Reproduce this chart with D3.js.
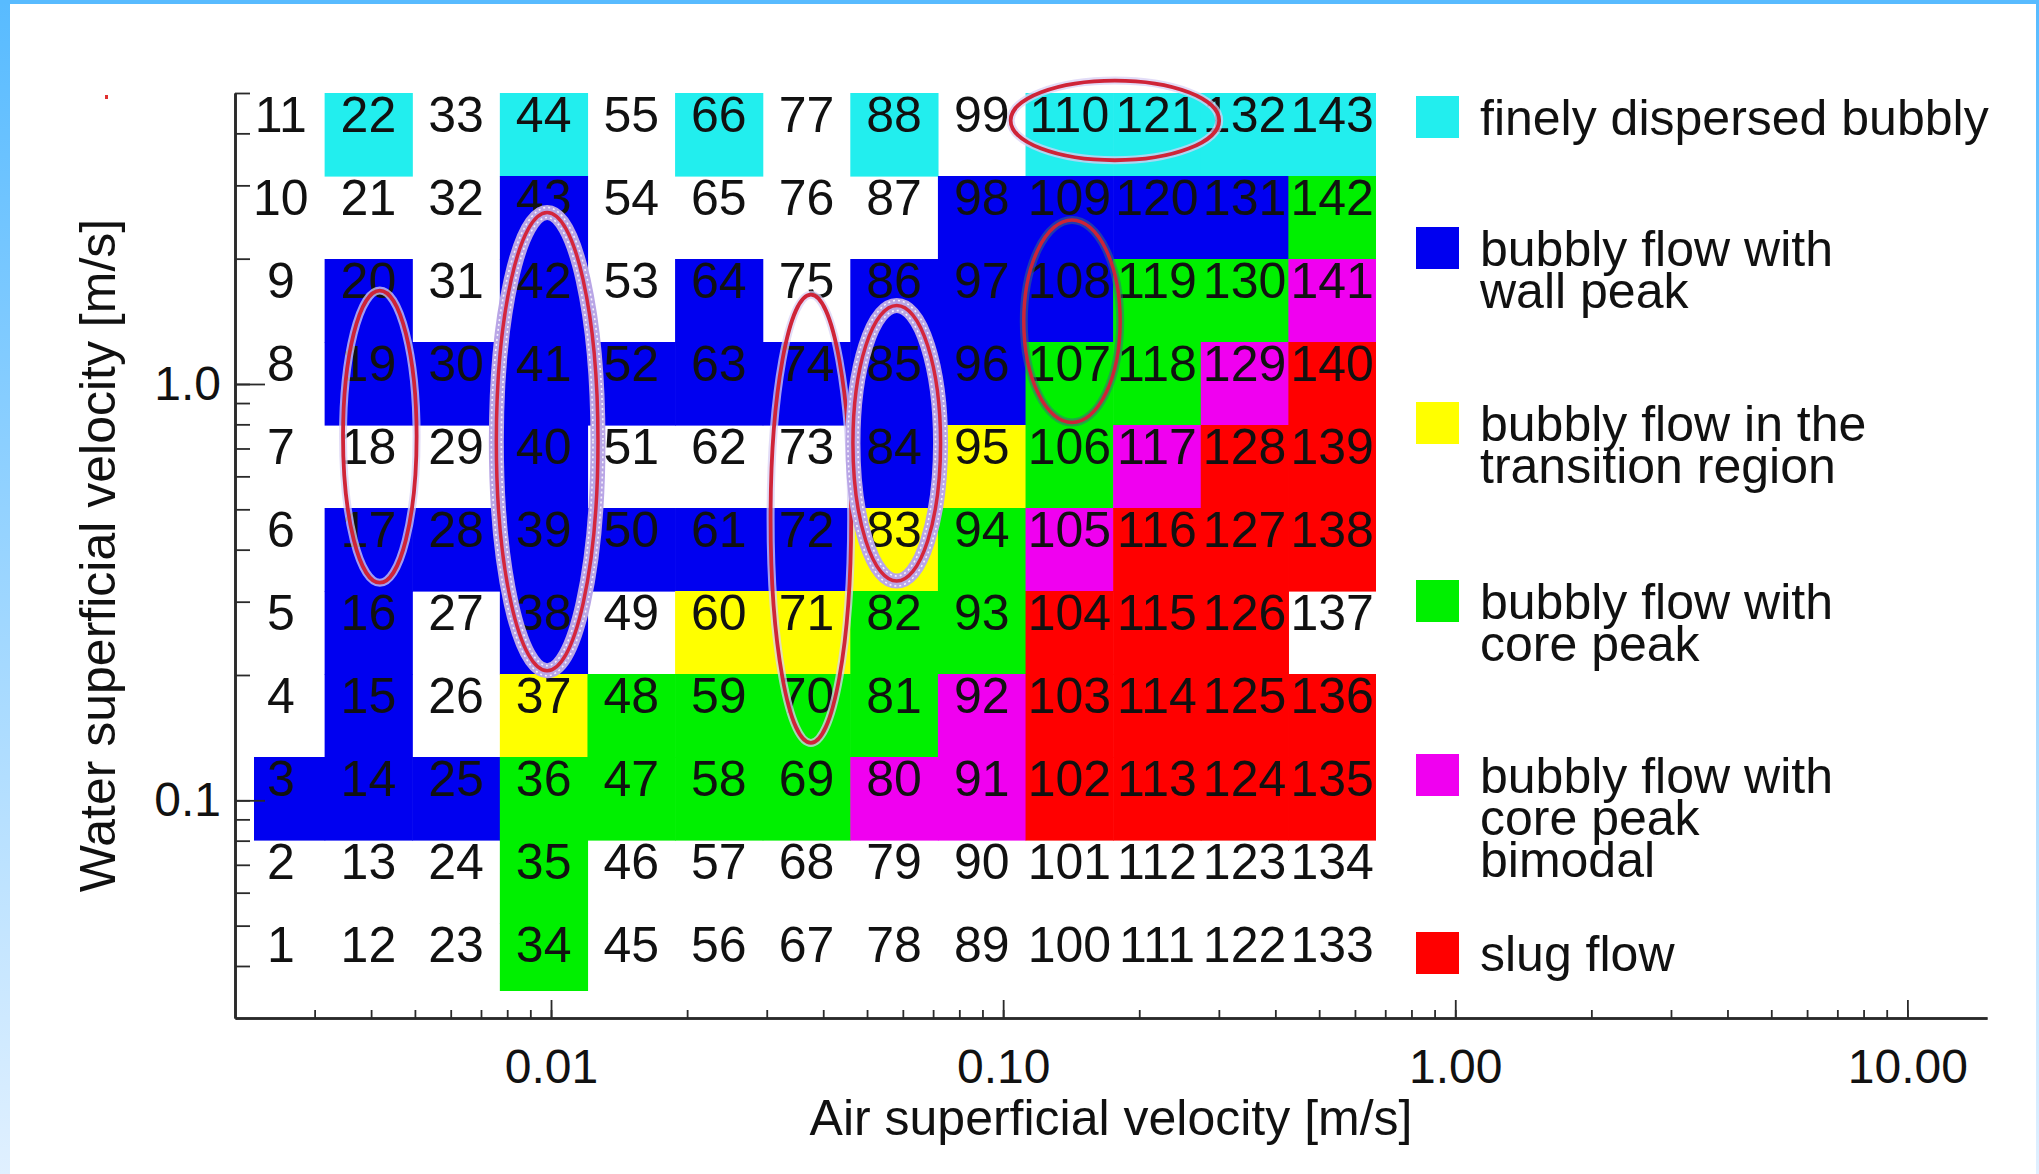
<!DOCTYPE html>
<html>
<head>
<meta charset="utf-8">
<script src="https://cdn.jsdelivr.net/npm/d3@7"></script>
<style>
  html, body { margin: 0; padding: 0; background: #ffffff; }
  svg { display: block; }
  text { font-family: "Liberation Sans", Arial, Helvetica, sans-serif; fill: #111; }
</style>
</head>
<body>
<script>
// ---- Flow regime map: measurement points on the air / water velocity grid ----

// regime codes, colours and legend text
const regimeCodes  = ["F", "W", "T", "C", "B", "S"];
const regimeColors = ["#22eeee", "#0000f0", "#ffff00", "#00f000", "#f000f0", "#ff0000"];
const regimeLabels = [
  ["finely dispersed bubbly"],
  ["bubbly flow with", "wall peak"],
  ["bubbly flow in the", "transition region"],
  ["bubbly flow with", "core peak"],
  ["bubbly flow with", "core peak", "bimodal"],
  ["slug flow"]
];

// grid rows from top (row 11) to bottom (row 1); "." = regime not assigned
const gridRowIndex = [11, 10, 9, 8, 7, 6, 5, 4, 3, 2, 1];
const gridRegimes = [
  ".F.F.F.F.FFFF",
  "...W....WWWWC",
  ".W.W.W.WWWCCB",
  ".WWWWWWWWCCBS",
  "...W...WTCBSS",
  ".WWWWWWTCBSSS",
  ".W.W.TTCCSSS.",
  ".W.TCCCCBSSSS",
  "WWWCCCCBBSSSS",
  "...C.........",
  "...C........."
];
// measurement point numbers, same layout as gridRegimes
const pointNumbers = [
  [11, 22, 33, 44, 55, 66, 77, 88, 99, 110, 121, 132, 143],
  [10, 21, 32, 43, 54, 65, 76, 87, 98, 109, 120, 131, 142],
  [9, 20, 31, 42, 53, 64, 75, 86, 97, 108, 119, 130, 141],
  [8, 19, 30, 41, 52, 63, 74, 85, 96, 107, 118, 129, 140],
  [7, 18, 29, 40, 51, 62, 73, 84, 95, 106, 117, 128, 139],
  [6, 17, 28, 39, 50, 61, 72, 83, 94, 105, 116, 127, 138],
  [5, 16, 27, 38, 49, 60, 71, 82, 93, 104, 115, 126, 137],
  [4, 15, 26, 37, 48, 59, 70, 81, 92, 103, 114, 125, 136],
  [3, 14, 25, 36, 47, 58, 69, 80, 91, 102, 113, 124, 135],
  [2, 13, 24, 35, 46, 57, 68, 79, 90, 101, 112, 123, 134],
  [1, 12, 23, 34, 45, 56, 67, 78, 89, 100, 111, 122, 133]
];
const gridColumns = [1, 2, 3, 4, 5, 6, 7, 8, 9, 10, 11, 12, 13];

// axes
const xDomain = [0.002, 15];
const yDomain = [0.03, 5];
const xMajorTicks = [0.01, 0.1, 1, 10];
const xTickLabels = ["0.01", "0.10", "1.00", "10.00"];
const yMajorTicks = [0.1, 1];
const yTickLabels = ["0.1", "1.0"];
const xTitle = "Air superficial velocity [m/s]";
const yTitle = "Water superficial velocity [m/s]";

// hand-drawn ellipses marking groups of points (grid units: column, row)
const marks = [
  { id: "m1", col: 2.13,  row: 7.36,  cols: 0.42, rows: 1.76 },
  { id: "m2", col: 4.04,  row: 7.30,  cols: 0.58, rows: 2.76 },
  { id: "m3", col: 7.05,  row: 6.37,  cols: 0.46, rows: 2.70 },
  { id: "m4", col: 8.03,  row: 7.28,  cols: 0.50, rows: 1.66 },
  { id: "m5", col: 10.03, row: 8.75,  cols: 0.55, rows: 1.22 },
  { id: "m6", col: 10.52, row: 11.17, cols: 1.19, rows: 0.48 }
];

// ---------------------------------------------------------------------------
const W = 2039, H = 1174;
const FONT = 50;
const svg = d3.select("body").append("svg").attr("width", W).attr("height", H);

const defs = svg.append("defs");
const grad = defs.append("linearGradient").attr("id", "frameGrad")
  .attr("x1", 0).attr("y1", 0).attr("x2", 0).attr("y2", 1);
grad.append("stop").attr("offset", "0%").attr("stop-color", "#58bbff");
grad.append("stop").attr("offset", "100%").attr("stop-color", "#e0f0ff");

svg.append("rect").attr("width", W).attr("height", H).attr("fill", "#ffffff");
// page frame
svg.append("rect").attr("x", 0).attr("y", 0).attr("width", 10).attr("height", H).attr("fill", "url(#frameGrad)");
svg.append("rect").attr("x", W - 3).attr("y", 0).attr("width", 3).attr("height", H).attr("fill", "url(#frameGrad)");
svg.append("rect").attr("x", 0).attr("y", 0).attr("width", W).attr("height", 4).attr("fill", "#58bbff");

// scales
const x = d3.scaleLog().domain(xDomain).range([235, 1987]);
const y = d3.scaleLog().domain(yDomain).range([1018, 93]);

const colBand = d3.scaleBand().domain(gridColumns).range([237, 1376]);
const rowBand = d3.scaleBand().domain(gridRowIndex).range([93, 1006]);
const colPos = d3.scaleLinear().domain([0.5, 13.5]).range([237, 1376]);
const rowPos = d3.scaleLinear().domain([11.5, 0.5]).range([93, 1006]);
const regimeColor = d3.scaleOrdinal().domain(regimeCodes).range(regimeColors);

// grid cells
defs.append("clipPath").attr("id", "gridClip")
  .append("rect").attr("x", 254).attr("y", 93).attr("width", 1376 - 254).attr("height", 991 - 93);

const cells = [];
gridRegimes.forEach((line, ri) => {
  gridColumns.forEach((c, ci) => {
    cells.push({ row: gridRowIndex[ri], col: c, regime: line[ci], id: pointNumbers[ri][ci] });
  });
});

const gridG = svg.append("g").attr("clip-path", "url(#gridClip)");
gridG.selectAll("rect.cell")
  .data(cells.filter(d => d.regime !== "."))
  .join("rect")
  .attr("class", "cell")
  .attr("x", d => colBand(d.col))
  .attr("y", d => rowBand(d.row))
  .attr("width", colBand.bandwidth() + 0.6)
  .attr("height", rowBand.bandwidth() + 0.6)
  .attr("fill", d => regimeColor(d.regime));

// point numbers
svg.append("g").selectAll("text")
  .data(cells)
  .join("text")
  .attr("x", d => colBand(d.col) + colBand.bandwidth() / 2)
  .attr("y", d => rowBand(d.row) + 39)
  .attr("text-anchor", "middle")
  .attr("font-size", FONT)
  .text(d => d.id);

// axes (ticks pointing into the plot)
const axisColor = "#2a2a2a";
const xMinor = x.ticks().filter(v => v > xDomain[0] * 1.01);
const yMinor = y.ticks().filter(v => v < yDomain[1] * 1.0001 && v > yDomain[0] * 1.01);

const xAxisG = svg.append("g").attr("transform", "translate(0,1018)");
xAxisG.call(d3.axisBottom(x).tickValues(xMinor).tickSizeInner(-8).tickSizeOuter(0).tickFormat(""));
xAxisG.append("g").call(d3.axisBottom(x).tickValues(xMajorTicks).tickSizeInner(-18).tickSizeOuter(0)
  .tickPadding(31).tickFormat((d, i) => xTickLabels[i]));

const yAxisG = svg.append("g").attr("transform", "translate(235,0)");
yAxisG.call(d3.axisLeft(y).tickValues(yMinor).tickSizeInner(-15).tickSizeOuter(0).tickFormat(""));
yAxisG.append("g").call(d3.axisLeft(y).tickValues(yMajorTicks).tickSizeInner(-30).tickSizeOuter(0)
  .tickPadding(14).tickFormat((d, i) => yTickLabels[i]));

svg.selectAll(".domain").attr("stroke", axisColor).attr("stroke-width", 2.6);
svg.selectAll(".tick line").attr("stroke", axisColor).attr("stroke-width", 1.8);
svg.selectAll(".tick text")
  .attr("font-size", 48)
  .attr("font-family", "'Liberation Sans', Arial, sans-serif")
  .attr("fill", "#111");

// axis titles
svg.append("text")
  .attr("x", (x.range()[0] + x.range()[1]) / 2)
  .attr("y", 1135)
  .attr("text-anchor", "middle")
  .attr("font-size", FONT)
  .text(xTitle);
svg.append("text")
  .attr("transform", `translate(115,${(y.range()[0] + y.range()[1]) / 2}) rotate(-90)`)
  .attr("text-anchor", "middle")
  .attr("font-size", FONT)
  .text(yTitle);

// legend
const legendTops = [96, 227, 402, 580, 754, 932];
const legend = svg.append("g");
regimeCodes.forEach((code, i) => {
  const g = legend.append("g").attr("transform", `translate(1416,${legendTops[i]})`);
  g.append("rect").attr("width", 43).attr("height", 42).attr("fill", regimeColor(code));
  g.append("text")
    .attr("x", 64)
    .attr("y", 39)
    .attr("font-size", FONT)
    .selectAll("tspan")
    .data(regimeLabels[i])
    .join("tspan")
    .attr("x", 64)
    .attr("dy", (d, j) => j === 0 ? 0 : 42)
    .text(d => d);
});

// ellipse marks drawn over the grid
const markStyle = {
  m1: "thin", m2: "thick", m3: "thin", m4: "thick", m5: "dark", m6: "thin"
};
const marksG = svg.append("g");
marks.forEach(m => {
  const cx = colPos(m.col), cy = rowPos(m.row);
  const rx = colPos(m.col + m.cols) - cx;
  const ry = rowPos(m.row - m.rows) - cy;
  const style = markStyle[m.id];
  const e = (rxx, ryy) => marksG.append("ellipse")
    .attr("cx", cx).attr("cy", cy).attr("rx", rxx).attr("ry", ryy).attr("fill", "none");
  if (style === "thick") {
    e(rx, ry).attr("stroke", "#b9a6e6").attr("stroke-width", 15);
    e(rx + 5, ry + 5).attr("stroke", "#ffffff").attr("stroke-width", 1.6).attr("stroke-dasharray", "2 3").attr("opacity", 0.85);
    e(rx - 5, ry - 5).attr("stroke", "#ffffff").attr("stroke-width", 1.6).attr("stroke-dasharray", "2 3").attr("opacity", 0.85);
    e(rx, ry).attr("stroke", "#d4263c").attr("stroke-width", 3.5);
  } else if (style === "dark") {
    e(rx, ry).attr("stroke", "#3a6a7a").attr("stroke-width", 8).attr("opacity", 0.55);
    e(rx, ry).attr("stroke", "#cc2438").attr("stroke-width", 3.5);
  } else {
    e(rx, ry).attr("stroke", "#d8d0f4").attr("stroke-width", 8).attr("opacity", 0.75);
    e(rx, ry).attr("stroke", "#cf2438").attr("stroke-width", 3.8);
  }
});

// small red speck near the top left
svg.append("rect").attr("x", 105).attr("y", 95).attr("width", 3).attr("height", 4).attr("fill", "#e03030");
</script>
</body>
</html>
